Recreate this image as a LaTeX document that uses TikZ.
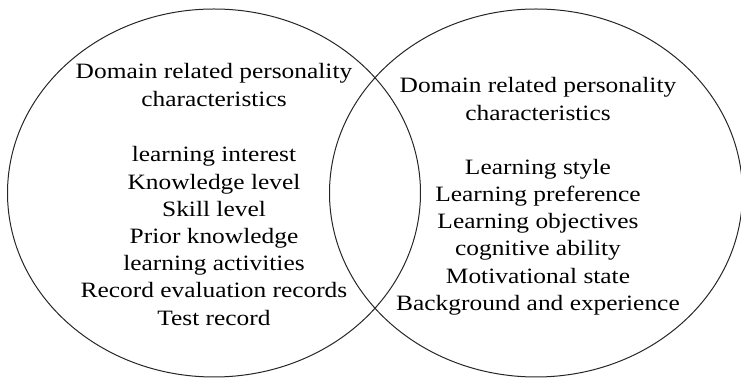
\documentclass[tikz,border=0pt]{standalone}
\usepackage{fontspec}
\setmainfont[FakeStretch=1.16]{Liberation Serif}
\usetikzlibrary{shapes.geometric,positioning}

\tikzset{
  setring/.style={draw=black!85,line width=0.5pt,ellipse,inner sep=0pt,
    minimum width=206.5pt,minimum height=184pt},
  setlabel/.style={align=center,inner sep=0pt,
    font=\fontsize{10.95}{13.6}\selectfont}
}

\begin{document}
\begin{tikzpicture}[x=0.5pt,y=-0.5pt]
  \useasboundingbox (0,0) rectangle (741,378);
  % the two overlapping sets
  \node[setring] (leftSet) at (214,193) {};
  \node[setring] (rightSet) at (536,193) {};
  % left set
  \node[setlabel] (leftHead) at (214,85) {Domain related personality\\characteristics};
  \node[setlabel] (leftList) at (214,236)
    {learning interest\\Knowledge level\\Skill level\\Prior knowledge\\learning activities\\Record evaluation records\\Test record};
  % right set
  \node[setlabel] (rightHead) at (538,99) {Domain related personality\\characteristics};
  \node[setlabel] (rightList) at (538,237)
    {Learning style\\Learning preference\\Learning objectives\\cognitive ability\\Motivational state\\Background and experience};
\end{tikzpicture}
\end{document}
